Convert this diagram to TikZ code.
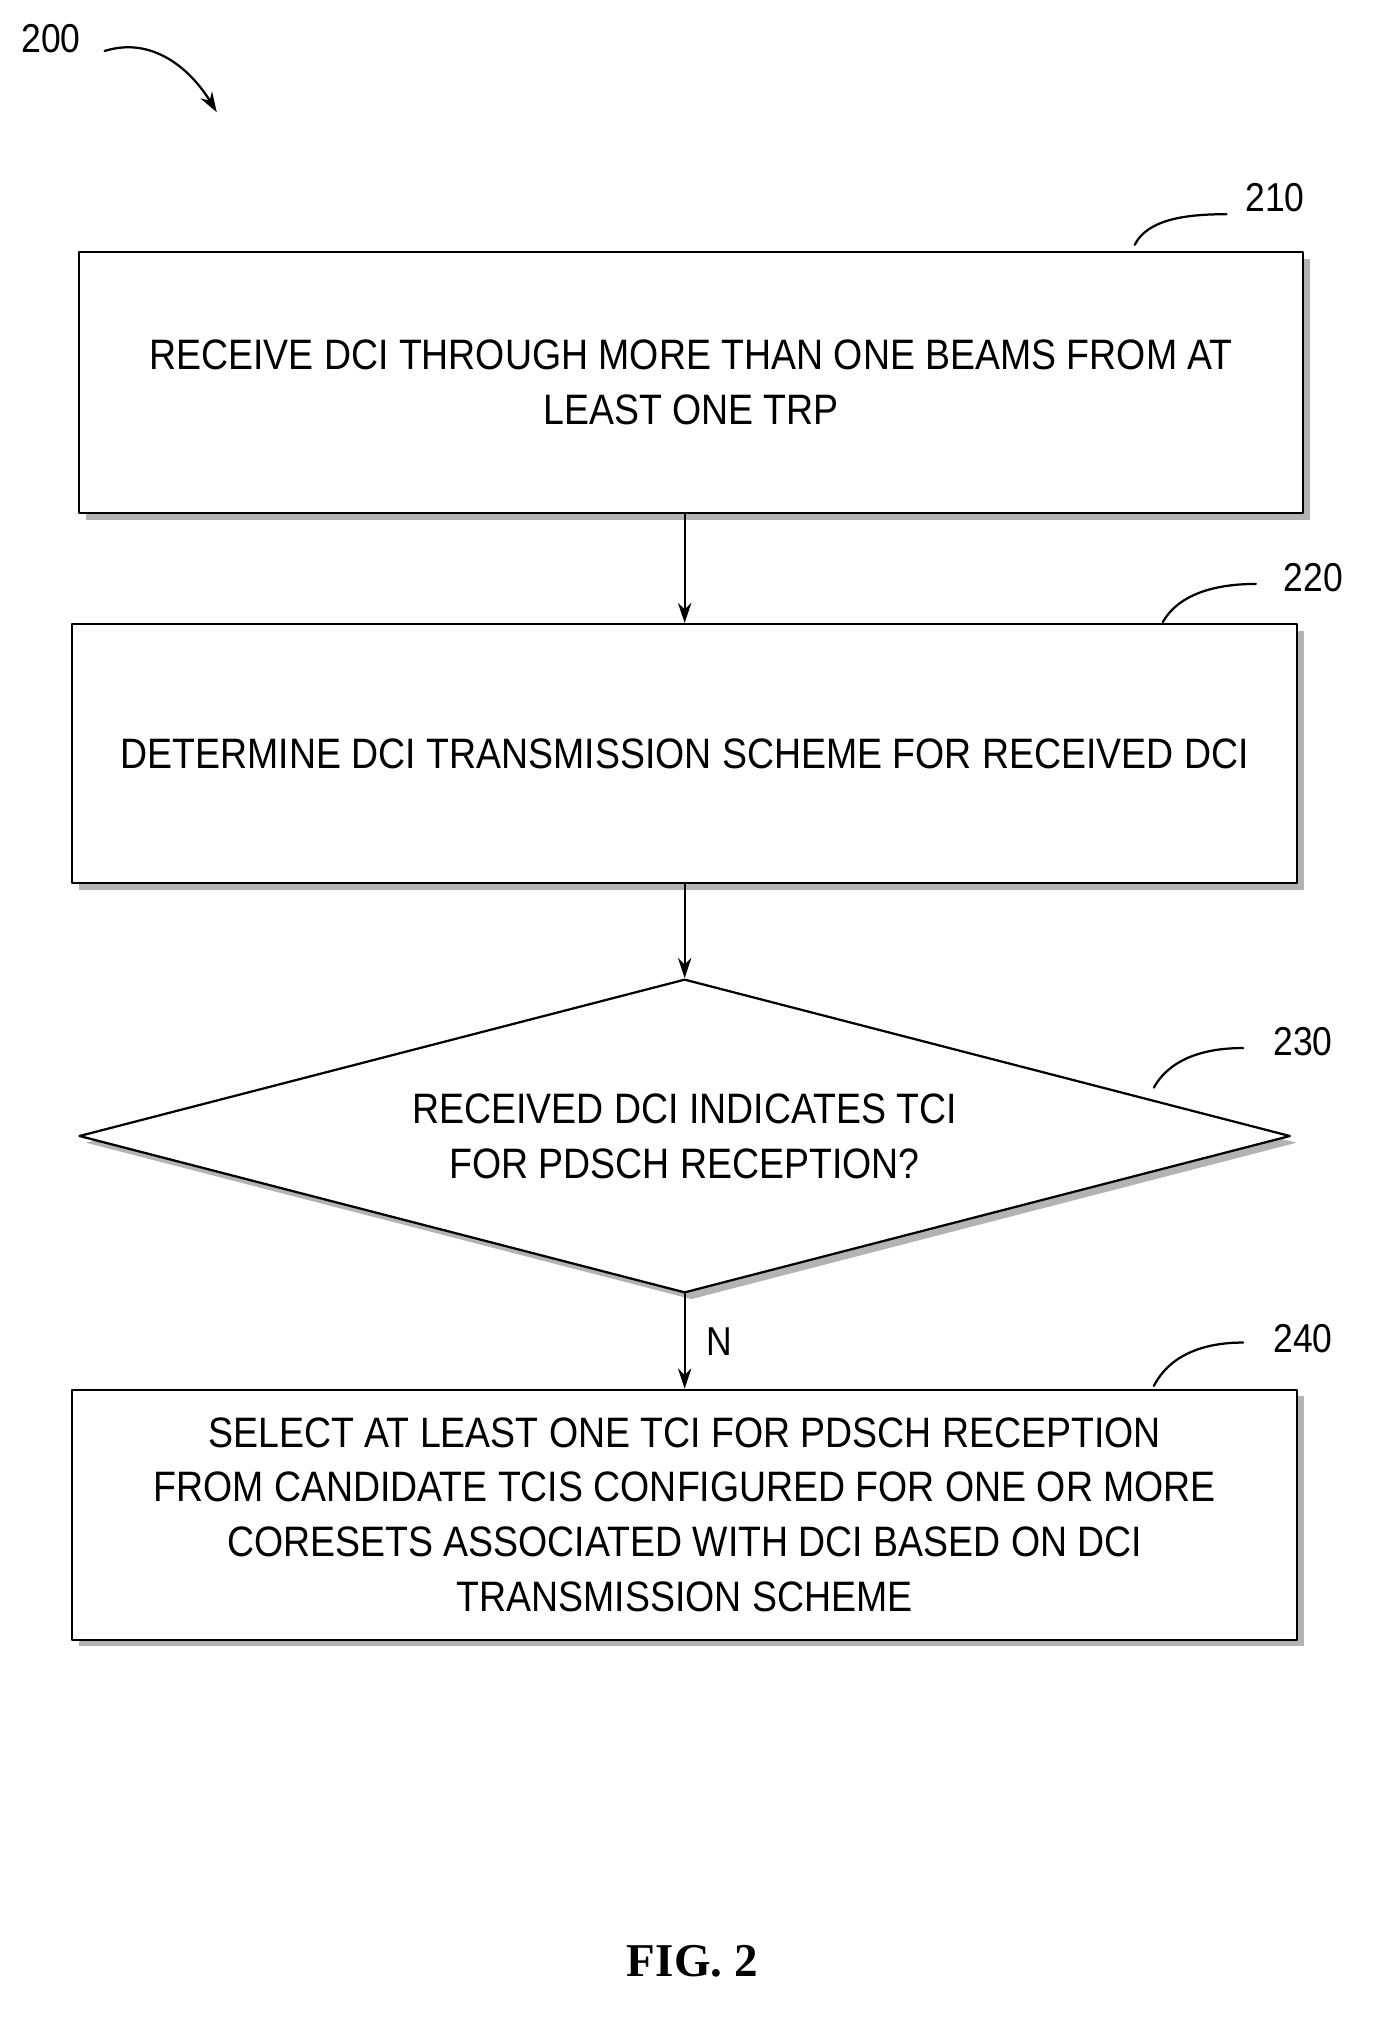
\documentclass[tikz,border=0pt]{standalone}
\usepackage{fontspec}
\setmainfont{Liberation Sans}[FakeStretch=0.88]
\usetikzlibrary{shapes.geometric,arrows.meta,shadows}
\begin{document}
\begin{tikzpicture}[line cap=round,line join=round,>={Stealth[length=9pt,width=6pt]},x=0.02cm,y=-0.02cm,
  flowbox/.style={draw,line width=1pt,fill=white,drop shadow={shadow xshift=3pt,shadow yshift=-3pt,opacity=0.6,fill=gray},
    align=center,inner sep=0pt,font=\fontsize{19}{24.5}\selectfont},
  lbl/.style={font=\fontsize{18}{22}\selectfont}]
\useasboundingbox (0,0) rectangle (1080,1582);
\node[flowbox,minimum width=960*0.02cm,minimum height=205*0.02cm] (s210) at (542,300) {RECEIVE DCI THROUGH MORE THAN ONE BEAMS FROM AT\\LEAST ONE TRP};
\node[flowbox,minimum width=961*0.02cm,minimum height=203*0.02cm] (s220) at (537,591) {DETERMINE DCI TRANSMISSION SCHEME FOR RECEIVED DCI};
\node[flowbox,diamond,minimum width=950*0.02cm,minimum height=246*0.02cm] (s230) at (537,891) {};
\node[align=center,font=\fontsize{19}{24.5}\selectfont] (t230) at (537,891) {RECEIVED DCI INDICATES TCI\\FOR PDSCH RECEPTION?};
\node[flowbox,minimum width=961*0.02cm,minimum height=196*0.02cm] (s240) at (537,1188) {SELECT AT LEAST ONE TCI FOR PDSCH RECEPTION\\FROM CANDIDATE TCIS CONFIGURED FOR ONE OR MORE\\CORESETS ASSOCIATED WITH DCI BASED ON DCI\\TRANSMISSION SCHEME};
\draw[->,line width=1pt] (s210.south -| s220) -- (s220.north);
\draw[->,line width=1pt] (s220.south) -- (s230.north);
\draw[->,line width=1pt] (s230.south) -- node[right=6pt,font=\fontsize{18}{22}\selectfont] {N} (s240.north);
% labels
\node[lbl] (n200) at (40,30) {200};
\coordinate (a200) at (170,88);
\draw[->,line width=1pt] (82,40) .. controls (120,28) and (150,55) .. (a200);
\node[lbl] (n210) at (1000,155) {210};
\draw[line width=1pt] (890,192) .. controls (900,172) and (930,168) .. (962,168);
\node[lbl] (n220) at (1030,453) {220};
\draw[line width=1pt] (912,488) .. controls (925,465) and (955,458) .. (985,458);
\node[lbl] (n230) at (1022,817) {230};
\draw[line width=1pt] (905,853) .. controls (918,830) and (945,822) .. (975,822);
\node[lbl] (n240) at (1022,1050) {240};
\draw[line width=1pt] (905,1087) .. controls (918,1062) and (945,1053) .. (975,1053);
\node[font=\fontspec{Liberation Serif}\bfseries\fontsize{21}{24}\selectfont] (fig) at (543,1538) {FIG. 2};
\end{tikzpicture}
\end{document}
